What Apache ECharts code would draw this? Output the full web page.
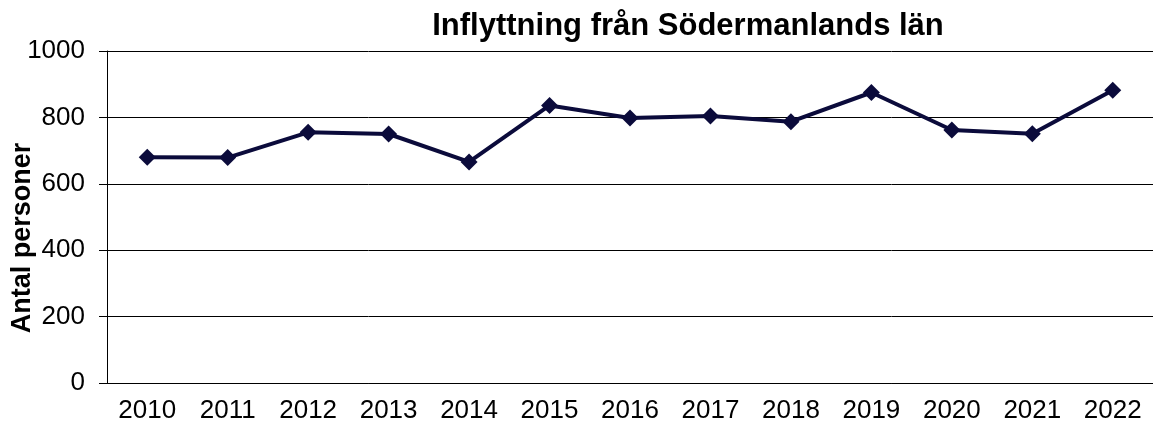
<!DOCTYPE html>
<html>
<head>
<meta charset="utf-8">
<script src="https://cdn.jsdelivr.net/npm/echarts@6/dist/echarts.min.js"></script>
<style>
  html, body { margin: 0; padding: 0; background: #fff; }
  #chart { width: 1153px; height: 425px; }
</style>
</head>
<body>
<div id="chart"></div>
<script>
// årtal och antal inflyttade
var years = ['2010', '2011', '2012', '2013', '2014', '2015', '2016', '2017', '2018', '2019', '2020', '2021', '2022'];
var persons = [680, 679, 755, 750, 666, 836, 798, 804, 787, 875, 762, 751, 882];
var yTicks = [0, 200, 400, 600, 800, 1000];

var chart = echarts.init(document.getElementById('chart'));

chart.setOption({
  animation: false,
  title: {
    text: 'Inflyttning från Södermanlands län',
    left: 683,
    top: 6,
    textAlign: 'center',
    textStyle: {
      fontFamily: 'Liberation Sans',
      fontSize: 31,
      fontWeight: 'bold',
      color: '#000'
    }
  },
  grid: {
    left: 107,
    right: 0,
    top: 51,
    bottom: 42,
    containLabel: false,
    outerBoundsMode: 'none'
  },
  xAxis: {
    type: 'category',
    data: years,
    boundaryGap: true,
    axisLine: { lineStyle: { color: '#000', width: 1 } },
    axisTick: { length: 8, lineStyle: { color: '#000' } },
    axisLabel: {
      margin: 15,
      fontFamily: 'Liberation Sans',
      fontSize: 26,
      color: '#000'
    }
  },
  yAxis: {
    type: 'value',
    min: yTicks[0],
    max: yTicks[yTicks.length - 1],
    interval: 200,
    name: 'Antal personer',
    nameLocation: 'middle',
    nameGap: 71,
    nameMoveOverlap: false,
    nameTextStyle: {
      fontFamily: 'Liberation Sans',
      fontSize: 27,
      fontWeight: 'bold',
      color: '#000',
      padding: [0, 42, 0, 0]
    },
    axisLine: { show: true, lineStyle: { color: '#000', width: 1 } },
    axisTick: { show: true, length: 8, lineStyle: { color: '#000' } },
    axisLabel: {
      margin: 22,
      fontFamily: 'Liberation Sans',
      fontSize: 26,
      color: '#000',
      formatter: function (v) { return String(v); }
    },
    splitLine: { lineStyle: { color: '#000', width: 1 } }
  },
  series: [
    {
      type: 'line',
      data: persons,
      symbol: 'diamond',
      symbolSize: 17,
      lineStyle: { color: '#0b0b3b', width: 4 },
      itemStyle: { color: '#0b0b3b' }
    }
  ]
});
</script>
</body>
</html>
